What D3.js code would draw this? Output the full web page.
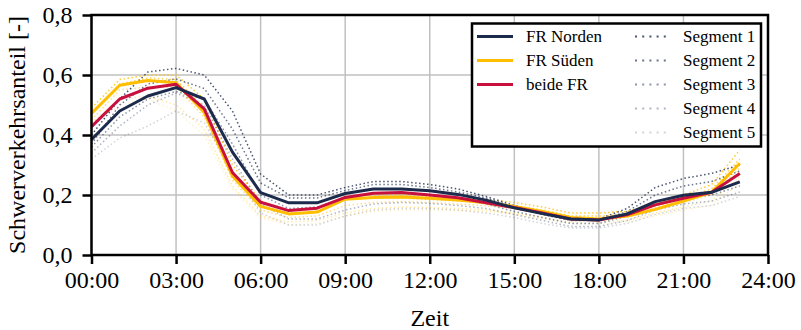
<!DOCTYPE html>
<html>
<head>
<meta charset="utf-8">
<script src="https://cdn.jsdelivr.net/npm/d3@7"></script>
<style>
  html, body { margin: 0; padding: 0; background: #fff; }
  svg { display: block; }
</style>
</head>
<body>
<svg id="chart" width="801" height="330"></svg>
<script>
// Hourly share of heavy traffic (0..23 h)
const hours = d3.range(0, 24);

const frNorden = [0.385, 0.480, 0.530, 0.558, 0.520, 0.343, 0.208, 0.174, 0.174, 0.205, 0.220, 0.220,
                  0.214, 0.202, 0.183, 0.157, 0.138, 0.120, 0.117, 0.137, 0.178, 0.199, 0.209, 0.244];
const frSueden = [0.472, 0.566, 0.582, 0.574, 0.475, 0.263, 0.162, 0.137, 0.143, 0.186, 0.192, 0.193,
                  0.189, 0.183, 0.174, 0.162, 0.145, 0.125, 0.120, 0.130, 0.152, 0.180, 0.209, 0.306];
const beideFR  = [0.428, 0.520, 0.556, 0.569, 0.487, 0.275, 0.176, 0.148, 0.156, 0.192, 0.206, 0.208,
                  0.200, 0.191, 0.174, 0.158, 0.140, 0.120, 0.117, 0.134, 0.167, 0.189, 0.209, 0.272];

// Segment curves, direction north
const nordSeg1 = [0.400, 0.520, 0.610, 0.622, 0.600, 0.480, 0.270, 0.200, 0.200, 0.225, 0.245, 0.245,
                  0.235, 0.220, 0.195, 0.165, 0.140, 0.120, 0.120, 0.155, 0.225, 0.255, 0.272, 0.300];
const nordSeg2 = [0.370, 0.500, 0.570, 0.587, 0.555, 0.420, 0.240, 0.190, 0.190, 0.215, 0.235, 0.235,
                  0.225, 0.210, 0.190, 0.160, 0.135, 0.115, 0.115, 0.145, 0.200, 0.230, 0.245, 0.280];
const nordSeg3 = [0.360, 0.460, 0.520, 0.545, 0.520, 0.370, 0.200, 0.155, 0.160, 0.190, 0.205, 0.205,
                  0.200, 0.190, 0.170, 0.145, 0.125, 0.105, 0.105, 0.130, 0.170, 0.190, 0.200, 0.230];
const nordSeg4 = [0.340, 0.430, 0.500, 0.540, 0.500, 0.320, 0.170, 0.120, 0.120, 0.150, 0.170, 0.175,
                  0.172, 0.165, 0.155, 0.135, 0.115, 0.095, 0.095, 0.115, 0.150, 0.170, 0.180, 0.210];
const nordSeg5 = [0.320, 0.390, 0.430, 0.480, 0.440, 0.280, 0.140, 0.100, 0.100, 0.130, 0.150, 0.155,
                  0.155, 0.150, 0.140, 0.125, 0.105, 0.090, 0.090, 0.105, 0.135, 0.155, 0.165, 0.195];

// Segment curves, direction south
const suedSeg1 = [0.490, 0.585, 0.600, 0.600, 0.520, 0.300, 0.180, 0.150, 0.155, 0.195, 0.200, 0.200,
                  0.195, 0.190, 0.185, 0.175, 0.160, 0.140, 0.140, 0.145, 0.170, 0.200, 0.235, 0.350];
const suedSeg2 = [0.470, 0.570, 0.590, 0.585, 0.490, 0.270, 0.165, 0.140, 0.145, 0.185, 0.190, 0.190,
                  0.185, 0.180, 0.175, 0.165, 0.150, 0.130, 0.130, 0.135, 0.160, 0.190, 0.220, 0.320];
const suedSeg3 = [0.450, 0.550, 0.560, 0.560, 0.460, 0.250, 0.150, 0.125, 0.130, 0.165, 0.175, 0.178,
                  0.175, 0.170, 0.165, 0.155, 0.140, 0.120, 0.120, 0.125, 0.150, 0.175, 0.200, 0.290];
const suedSeg4 = [0.440, 0.520, 0.530, 0.500, 0.420, 0.230, 0.130, 0.110, 0.115, 0.140, 0.155, 0.160,
                  0.158, 0.155, 0.150, 0.140, 0.125, 0.110, 0.110, 0.115, 0.140, 0.160, 0.180, 0.260];
const suedSeg5 = [0.430, 0.500, 0.520, 0.480, 0.400, 0.220, 0.125, 0.100, 0.105, 0.130, 0.145, 0.150,
                  0.150, 0.148, 0.145, 0.135, 0.120, 0.105, 0.105, 0.110, 0.130, 0.150, 0.165, 0.240];

const xTickHours  = [0, 3, 6, 9, 12, 15, 18, 21, 24];
const xTickLabels = ["00:00", "03:00", "06:00", "09:00", "12:00", "15:00", "18:00", "21:00", "24:00"];
const yTicks      = [0, 0.2, 0.4, 0.6, 0.8];

const mainNames    = ["FR Norden", "FR Süden", "beide FR"];
const segmentNames = ["Segment 1", "Segment 2", "Segment 3", "Segment 4", "Segment 5"];

const FONT = '"Liberation Serif"';
const NAVY = "#1c2a4c", GOLD = "#ffbf00", CRIMSON = "#c8103f";
const segOpacity = [0.8, 0.65, 0.5, 0.35, 0.2];

// make sure the serif face is resolved before any text is laid out
const probe = document.createElement("canvas").getContext("2d");
["24px", "17px"].forEach(sz => {
  probe.font = `${sz} ${FONT}, monospace`;
  probe.measureText("Schwerverkehrsanteil 00:00 Zeit Segment FR Süden");
});

function draw() {
  const margin = { left: 91.5, right: 33, top: 15, bottom: 75 };
  const W = 801, H = 330;
  const svg = d3.select("#chart");

  const x = d3.scaleLinear().domain([0, 24]).range([margin.left, W - margin.right]);
  const y = d3.scaleLinear().domain([0, 0.8]).range([H - margin.bottom, margin.top]);

  // grid
  const grid = svg.append("g");
  grid.selectAll("line.gx").data(xTickHours).join("line")
    .attr("x1", d => x(d)).attr("x2", d => x(d))
    .attr("y1", y(0)).attr("y2", y(0.8))
    .attr("stroke", "#c0c0c0").attr("stroke-width", 1.5);
  grid.selectAll("line.gy").data(yTicks).join("line")
    .attr("x1", x(0)).attr("x2", x(24))
    .attr("y1", d => y(d)).attr("y2", d => y(d))
    .attr("stroke", "#c0c0c0").attr("stroke-width", 1.5);

  const line = d3.line().x((d, i) => x(hours[i])).y(d => y(d));
  const plot = svg.append("g");

  const nordSegs = [nordSeg1, nordSeg2, nordSeg3, nordSeg4, nordSeg5];
  const suedSegs = [suedSeg1, suedSeg2, suedSeg3, suedSeg4, suedSeg5];

  suedSegs.forEach((s, i) => {
    plot.append("path").datum(s).attr("d", line)
      .attr("fill", "none").attr("stroke", GOLD).attr("stroke-opacity", segOpacity[i])
      .attr("stroke-width", 1.5).attr("stroke-dasharray", "1.5,2.5");
  });
  nordSegs.forEach((s, i) => {
    plot.append("path").datum(s).attr("d", line)
      .attr("fill", "none").attr("stroke", NAVY).attr("stroke-opacity", segOpacity[i])
      .attr("stroke-width", 1.5).attr("stroke-dasharray", "1.5,2.5");
  });

  [[frSueden, GOLD], [beideFR, CRIMSON], [frNorden, NAVY]].forEach(([s, c]) => {
    plot.append("path").datum(s).attr("d", line)
      .attr("fill", "none").attr("stroke", c).attr("stroke-width", 3)
      .attr("stroke-linejoin", "round");
  });

  // axes
  const xAxis = d3.axisBottom(x).tickValues(xTickHours)
    .tickFormat((d, i) => xTickLabels[i]).tickSize(9).tickPadding(5);
  const yAxis = d3.axisLeft(y).tickValues(yTicks)
    .tickFormat(d => d3.format(".1f")(d).replace(".", ",")).tickSize(9).tickPadding(10);

  const gx = svg.append("g").attr("transform", `translate(0,${y(0)})`).call(xAxis);
  const gy = svg.append("g").attr("transform", `translate(${x(0)},0)`).call(yAxis);
  [gx, gy].forEach(g => {
    g.attr("font-family", null).attr("font-size", null);
    g.select(".domain").remove();
    g.selectAll(".tick line").attr("stroke", "#000").attr("stroke-width", 2.5);
    g.selectAll(".tick text").attr("fill", "#000")
      .style("font-family", FONT).style("font-size", "24px");
  });
  gx.selectAll(".tick text").attr("dy", "0.8em");

  // frame
  svg.append("rect")
    .attr("x", x(0)).attr("y", y(0.8))
    .attr("width", x(24) - x(0)).attr("height", y(0) - y(0.8))
    .attr("fill", "none").attr("stroke", "#000").attr("stroke-width", 2.5);

  // axis titles
  svg.append("text")
    .attr("x", (x(0) + x(24)) / 2).attr("y", 326)
    .attr("text-anchor", "middle")
    .style("font-family", FONT).style("font-size", "24px").text("Zeit");
  svg.append("text")
    .attr("transform", `translate(25,${(y(0) + y(0.8)) / 2}) rotate(-90)`)
    .attr("text-anchor", "middle")
    .style("font-family", FONT).style("font-size", "24px")
    .text("Schwerverkehrsanteil [-]");

  // legend
  const lg = svg.append("g");
  lg.append("rect").attr("x", 472).attr("y", 23.5).attr("width", 289).attr("height", 123)
    .attr("fill", "#fff").attr("stroke", "#000").attr("stroke-width", 2.5);
  const rowY = i => 36.5 + i * 24;
  const mainColors = [NAVY, GOLD, CRIMSON];
  mainNames.forEach((n, i) => {
    lg.append("line").attr("x1", 477).attr("x2", 513).attr("y1", rowY(i)).attr("y2", rowY(i))
      .attr("stroke", mainColors[i]).attr("stroke-width", 3);
    lg.append("text").attr("x", 526).attr("y", rowY(i)).attr("dy", "0.35em")
      .style("font-family", FONT).style("font-size", "17px").text(n);
  });
  segmentNames.forEach((n, i) => {
    lg.append("line").attr("x1", 635).attr("x2", 668).attr("y1", rowY(i)).attr("y2", rowY(i))
      .attr("stroke", NAVY).attr("stroke-opacity", segOpacity[i])
      .attr("stroke-width", 2).attr("stroke-dasharray", "2,5.2");
    lg.append("text").attr("x", 683).attr("y", rowY(i)).attr("dy", "0.35em")
      .style("font-family", FONT).style("font-size", "17px").text(n);
  });
}

draw();
</script>
</body>
</html>
